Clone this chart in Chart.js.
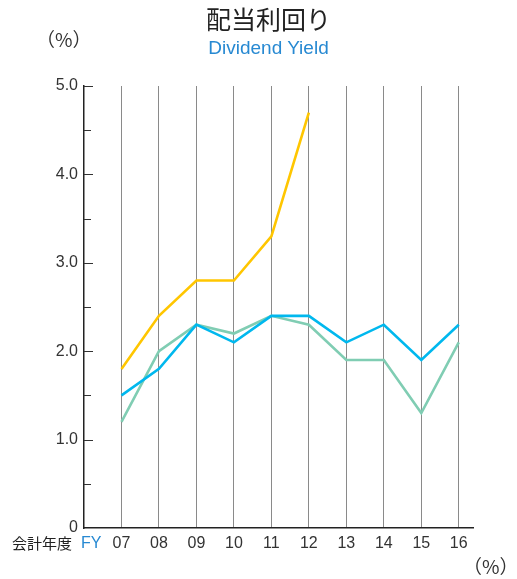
<!DOCTYPE html>
<html>
<head>
<meta charset="utf-8">
<script src="https://cdn.jsdelivr.net/npm/chart.js@4.4.1/dist/chart.umd.min.js"></script>
<style>
    html, body { margin: 0; padding: 0; background: #fff; }
    #wrap { position: relative; width: 517px; height: 579px; }
    #chart { position: absolute; left: 0; top: 0; }
    .txt { position: absolute; white-space: nowrap; line-height: 1; }
    .jp { font-family: "Noto Sans CJK JP", sans-serif; color: #222; }
    .en { font-family: "Liberation Sans", Arial, sans-serif; }
</style>
</head>
<body>
<div id="wrap">
    <canvas id="chart" width="517" height="579"></canvas>
    <div class="txt jp" style="left:0;width:537px;text-align:center;top:6px;font-size:25px;">配当利回り</div>
    <div class="txt en" style="left:0;width:537px;text-align:center;top:38px;font-size:19px;color:#2789d2;">Dividend Yield</div>
    <div class="txt jp" style="left:36px;top:29px;font-size:19px;color:#333;">（%）</div>
    <div class="txt jp" style="left:12px;top:535px;font-size:15px;">会計年度</div>
    <div class="txt en" style="left:81px;top:535px;font-size:16px;color:#2789d2;">FY</div>
    <div class="txt jp" style="left:463px;top:556px;font-size:19px;color:#333;">（%）</div>
</div>
<script>
// Fiscal years (x axis) and their labels
const years = [7, 8, 9, 10, 11, 12, 13, 14, 15, 16];
const yearLabels = ['07', '08', '09', '10', '11', '12', '13', '14', '15', '16'];

// Dividend yield (%) per series
const yellowSeries = [1.8, 2.4, 2.8, 2.8, 3.3, 4.7, null, null, null, null];
const blueSeries = [1.5, 1.8, 2.3, 2.1, 2.4, 2.4, 2.1, 2.3, 1.9, 2.3];
const greenSeries = [1.2, 2.0, 2.3, 2.2, 2.4, 2.3, 1.9, 1.9, 1.3, 2.1];

// Y axis tick labels
const yTickLabels = { 0: '0', 1: '1.0', 2: '2.0', 3: '3.0', 4: '4.0', 5: '5.0' };

const toPoints = values => values.map((v, i) => ({ x: years[i], y: v }));

// Short ticks drawn inward from the y axis
const innerTicks = {
    id: 'innerTicks',
    afterDatasetsDraw(chart) {
        const ctx = chart.ctx;
        const yScale = chart.scales.y;
        const left = chart.chartArea.left;
        ctx.save();
        ctx.strokeStyle = '#333';
        ctx.lineWidth = 1;
        yScale.ticks.forEach(t => {
            if (t.value === 0) return;
            const y = Math.round(yScale.getPixelForValue(t.value)) + 0.5;
            const len = Number.isInteger(t.value) ? 9 : 7;
            ctx.beginPath();
            ctx.moveTo(left, y);
            ctx.lineTo(left + len, y);
            ctx.stroke();
        });
        ctx.restore();
    }
};

function lineDataset(values, color, order) {
    return {
        data: toPoints(values),
        borderColor: color,
        borderWidth: 2.6,
        pointRadius: 0,
        fill: false,
        tension: 0,
        spanGaps: false,
        order: order
    };
}

new Chart(document.getElementById('chart'), {
    type: 'line',
    data: {
        datasets: [
            lineDataset(blueSeries, '#00b8ee', 1),
            lineDataset(greenSeries, '#80cdb3', 2),
            lineDataset(yellowSeries, '#ffc600', 3)
        ]
    },
    options: {
        responsive: false,
        animation: false,
        events: [],
        layout: { padding: { top: 86, right: 44, left: 0, bottom: 0 } },
        plugins: {
            legend: { display: false },
            tooltip: { enabled: false }
        },
        scales: {
            x: {
                type: 'linear',
                min: 6,
                max: 16.38,
                afterBuildTicks: scale => {
                    scale.ticks = years.map(v => ({ value: v }));
                },
                afterFit: scale => { scale.height = 51; },
                ticks: {
                    callback: (v) => yearLabels[years.indexOf(v)],
                    color: '#333',
                    font: { family: '"Liberation Sans", Arial, sans-serif', size: 16 },
                    padding: 6,
                    maxRotation: 0,
                    autoSkip: false
                },
                grid: {
                    drawTicks: false,
                    color: '#8a8a8a',
                    lineWidth: 1
                },
                border: { display: true, color: '#222', width: 1.5 }
            },
            y: {
                min: 0,
                max: 5,
                afterFit: scale => { scale.width = 84; },
                ticks: {
                    stepSize: 0.5,
                    callback: (v) => yTickLabels[v] !== undefined ? yTickLabels[v] : '',
                    color: '#333',
                    font: { family: '"Liberation Sans", Arial, sans-serif', size: 16 },
                    padding: 6
                },
                grid: { drawOnChartArea: false, drawTicks: false },
                border: { display: true, color: '#222', width: 1.5 }
            }
        }
    },
    plugins: [innerTicks]
});
</script>
</body>
</html>
